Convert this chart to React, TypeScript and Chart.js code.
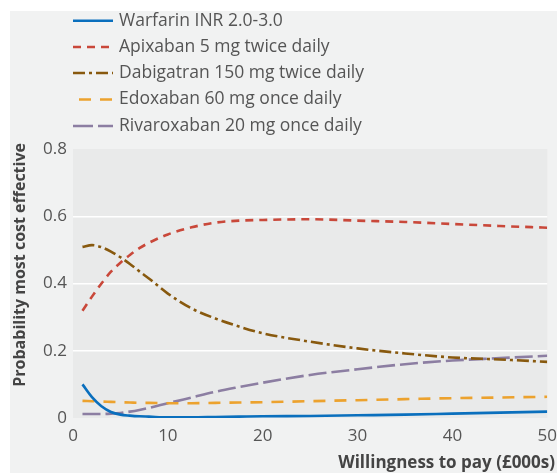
import React, { useEffect, useRef } from "react";
import { Chart, registerables } from "chart.js";

Chart.register(...registerables);

const wtp = [1, 2, 3, 4, 5, 6, 7, 8, 10, 12.5, 15, 17.5, 20, 25, 30, 35, 40, 45, 50];
const warfarin = [0.1, 0.062, 0.035, 0.018, 0.01, 0.007, 0.005, 0.004, 0.002, 0.002, 0.003, 0.004, 0.005, 0.006, 0.008, 0.01, 0.013, 0.016, 0.019];
const apixaban = [0.319, 0.361, 0.4, 0.435, 0.462, 0.485, 0.505, 0.521, 0.546, 0.567, 0.581, 0.587, 0.589, 0.591, 0.587, 0.583, 0.577, 0.571, 0.566];
const dabigatran = [0.509, 0.514, 0.508, 0.495, 0.478, 0.458, 0.436, 0.415, 0.37, 0.326, 0.296, 0.272, 0.252, 0.227, 0.207, 0.192, 0.18, 0.174, 0.167];
const edoxaban = [0.051, 0.05, 0.049, 0.048, 0.047, 0.046, 0.045, 0.045, 0.044, 0.044, 0.045, 0.046, 0.047, 0.05, 0.053, 0.056, 0.059, 0.061, 0.063];
const rivaroxaban = [0.012, 0.012, 0.012, 0.013, 0.015, 0.019, 0.024, 0.03, 0.044, 0.061, 0.078, 0.092, 0.105, 0.128, 0.145, 0.16, 0.171, 0.178, 0.185];

const seriesLabels = [
  "Warfarin INR 2.0-3.0",
  "Apixaban 5 mg twice daily",
  "Dabigatran 150 mg twice daily",
  "Edoxaban 60 mg once daily",
  "Rivaroxaban 20 mg once daily",
];
const xTitle = "Willingness to pay (£000s)";
const yTitle = "Probability most cost effective";

const FONT = "'Open Sans', 'Noto Sans', sans-serif";

const decorPlugin = {
  id: "decor",
  beforeDraw(chart: any) {
    const { ctx, chartArea } = chart;
    ctx.save();
    ctx.fillStyle = "#f1f2f2";
    ctx.fillRect(10, 11, chart.width - 10, chart.height - 11);
    ctx.fillStyle = "#e9eaea";
    ctx.fillRect(chartArea.left, chartArea.top, chartArea.right - chartArea.left, chartArea.bottom - chartArea.top);
    ctx.restore();
  },
  afterDraw(chart: any) {
    const { ctx } = chart;
    ctx.save();
    // legend
    const rowY = [20.7, 47, 73, 99.5, 126];
    chart.data.datasets.forEach((ds: any, i: number) => {
      const y = rowY[i];
      ctx.strokeStyle = ds.borderColor;
      ctx.lineWidth = ds.borderWidth;
      ctx.setLineDash(ds.legendDash || ds.borderDash || []);
      ctx.lineDashOffset = 0;
      ctx.beginPath();
      ctx.moveTo(ds.legendStart || 73, y);
      ctx.lineTo(113, y);
      ctx.stroke();
      ctx.setLineDash([]);
      ctx.fillStyle = "#555555";
      ctx.font = `17.5px ${FONT}`;
      ctx.textAlign = "left";
      ctx.textBaseline = "middle";
      ctx.fillText(ds.label, 119, y);
    });
    // axis titles
    ctx.fillStyle = "#444444";
    ctx.font = `bold 17px ${FONT}`;
    ctx.textAlign = "right";
    ctx.textBaseline = "middle";
    ctx.fillText(xTitle, 555, 463);
    ctx.font = `bold 16px ${FONT}`;
    ctx.translate(20, 143);
    ctx.rotate(-Math.PI / 2);
    ctx.fillText(yTitle, 0, 0);
    ctx.restore();
  },
};

export default function App() {
  const ref = useRef<HTMLCanvasElement>(null);
  useEffect(() => {
    if (!ref.current) return;
    const mk = (ys: number[]) => wtp.map((x, i) => ({ x, y: ys[i] }));
    const chart = new Chart(ref.current, {
      type: "line",
      data: {
        datasets: [
          { label: seriesLabels[0], data: mk(warfarin), borderColor: "#0a6fbd", borderWidth: 2.6, borderDash: [] },
          { label: seriesLabels[1], data: mk(apixaban), borderColor: "#c9483a", borderWidth: 2.6, borderDash: [8, 6] },
          { label: seriesLabels[2], data: mk(dabigatran), borderColor: "#88590e", borderWidth: 2.6, borderDash: [12, 4, 3, 4] },
          { label: seriesLabels[3], data: mk(edoxaban), borderColor: "#eca22e", borderWidth: 2.6, borderDash: [12, 9], legendStart: 79 } as any,
          { label: seriesLabels[4], data: mk(rivaroxaban), borderColor: "#8c7ea2", borderWidth: 2.6, borderDash: [18, 5], legendDash: [20, 5] } as any,
        ],
      },
      options: {
        animation: false,
        responsive: true,
        maintainAspectRatio: false,
        layout: { padding: { top: 149, right: 9, left: 0, bottom: 0 } },
        elements: {
          point: { radius: 0 },
          line: { cubicInterpolationMode: "monotone", fill: false, borderCapStyle: "butt" },
        },
        plugins: { legend: { display: false }, tooltip: { enabled: false } },
        scales: {
          x: {
            type: "linear",
            min: 0,
            max: 50,
            ticks: { stepSize: 10, color: "#555555", font: { family: FONT, size: 17 }, padding: 0 },
            grid: { display: false },
            border: { display: false },
            afterFit: (s: any) => { s.height = 55; },
          },
          y: {
            min: 0,
            max: 0.8,
            ticks: { stepSize: 0.2, color: "#555555", font: { family: FONT, size: 17 }, padding: 6 },
            grid: {
              drawTicks: false,
              lineWidth: 1.5,
              color: (c: any) => (c.tick && (c.tick.value === 0 || c.tick.value === 0.8) ? "rgba(0,0,0,0)" : "#ffffff"),
            },
            border: { display: false },
            afterFit: (s: any) => { s.width = 73; },
          },
        },
      },
      plugins: [decorPlugin],
    });
    return () => chart.destroy();
  }, []);
  return (
    <div style={{ position: "fixed", left: 0, top: 0, width: 557, height: 473, background: "#ffffff" }}>
      <canvas ref={ref} />
    </div>
  );
}
